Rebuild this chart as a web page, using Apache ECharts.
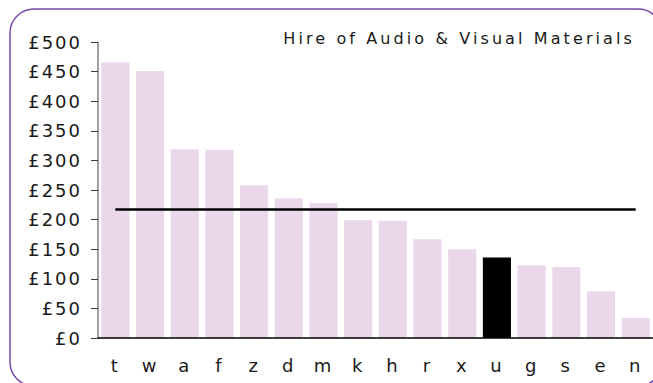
<!DOCTYPE html>
<html>
<head>
<meta charset="utf-8">
<style>
  html, body { margin: 0; padding: 0; background: #ffffff; }
  #chart { width: 653px; height: 383px; }
  /* wide tracking on the axis labels, a little wider on the heading */
  #chart svg text { letter-spacing: 2px; }
  #chart svg text[style*="16px"] { letter-spacing: 3.1px; }
</style>
<script src="https://cdn.jsdelivr.net/npm/echarts@6/dist/echarts.min.js"></script>
</head>
<body>
<div id="chart"></div>
<script>
// Spend per service on hire of audio & visual materials
const categories = ['t', 'w', 'a', 'f', 'z', 'd', 'm', 'k', 'h', 'r', 'x', 'u', 'g', 's', 'e', 'n'];
const spend = [466, 451, 319, 318, 258, 236, 228, 199, 198, 167, 150, 136, 123, 120, 79, 34];
const averageSpend = 218;
const highlighted = 'u';
const yTicks = { min: 0, max: 500, step: 50 };
const chartTitle = 'Hire of Audio & Visual Materials';

const FONT = '"DejaVu Sans", Verdana, sans-serif';
const BAR = '#ead8ea';

const chart = echarts.init(document.getElementById('chart'), null, { renderer: 'svg' });

chart.setOption({
  animation: false,
  backgroundColor: '#ffffff',
  graphic: [
    {
      type: 'rect',
      shape: { x: 10, y: 9, width: 652, height: 377, r: 24 },
      style: { fill: 'none', stroke: '#7a4aa6', lineWidth: 1.5 },
      silent: true,
      z: 100
    },
    {
      type: 'text',
      x: 635,
      y: 30,
      style: {
        text: chartTitle,
        fill: '#1a1a1a',
        font: '16px ' + FONT,
        textAlign: 'right',
        textVerticalAlign: 'top'
      },
      silent: true
    }
  ],
  grid: { left: 98, right: 0, top: 42, bottom: 45, containLabel: false },
  xAxis: {
    type: 'category',
    data: categories,
    z: 5,
    axisLine: { show: true, lineStyle: { color: '#000000', width: 1.5 } },
    axisTick: { show: false },
    axisLabel: {
      interval: 0,
      margin: 18,
      color: '#1a1a1a',
      fontSize: 18,
      fontFamily: FONT
    },
    splitLine: { show: false }
  },
  yAxis: {
    type: 'value',
    min: yTicks.min,
    max: yTicks.max,
    interval: yTicks.step,
    z: 5,
    axisLine: { show: true, lineStyle: { color: '#808080', width: 1.5 } },
    axisTick: { show: true, length: 7, lineStyle: { color: '#404040', width: 1 } },
    axisLabel: {
      margin: 16,
      color: '#1a1a1a',
      fontSize: 18,
      fontFamily: FONT,
      formatter: v => '£' + v
    },
    splitLine: { show: false }
  },
  series: [
    {
      type: 'bar',
      barCategoryGap: '19%',
      data: spend.map((v, i) => ({
        value: v,
        itemStyle: { color: categories[i] === highlighted ? '#000000' : BAR }
      })),
      markLine: {
        silent: true,
        symbol: ['none', 'none'],
        label: { show: false },
        lineStyle: { color: '#000000', width: 2.5, type: 'solid' },
        data: [[
          { coord: [categories[0], averageSpend] },
          { coord: [categories[categories.length - 1], averageSpend] }
        ]]
      }
    }
  ]
});
</script>
</body>
</html>
